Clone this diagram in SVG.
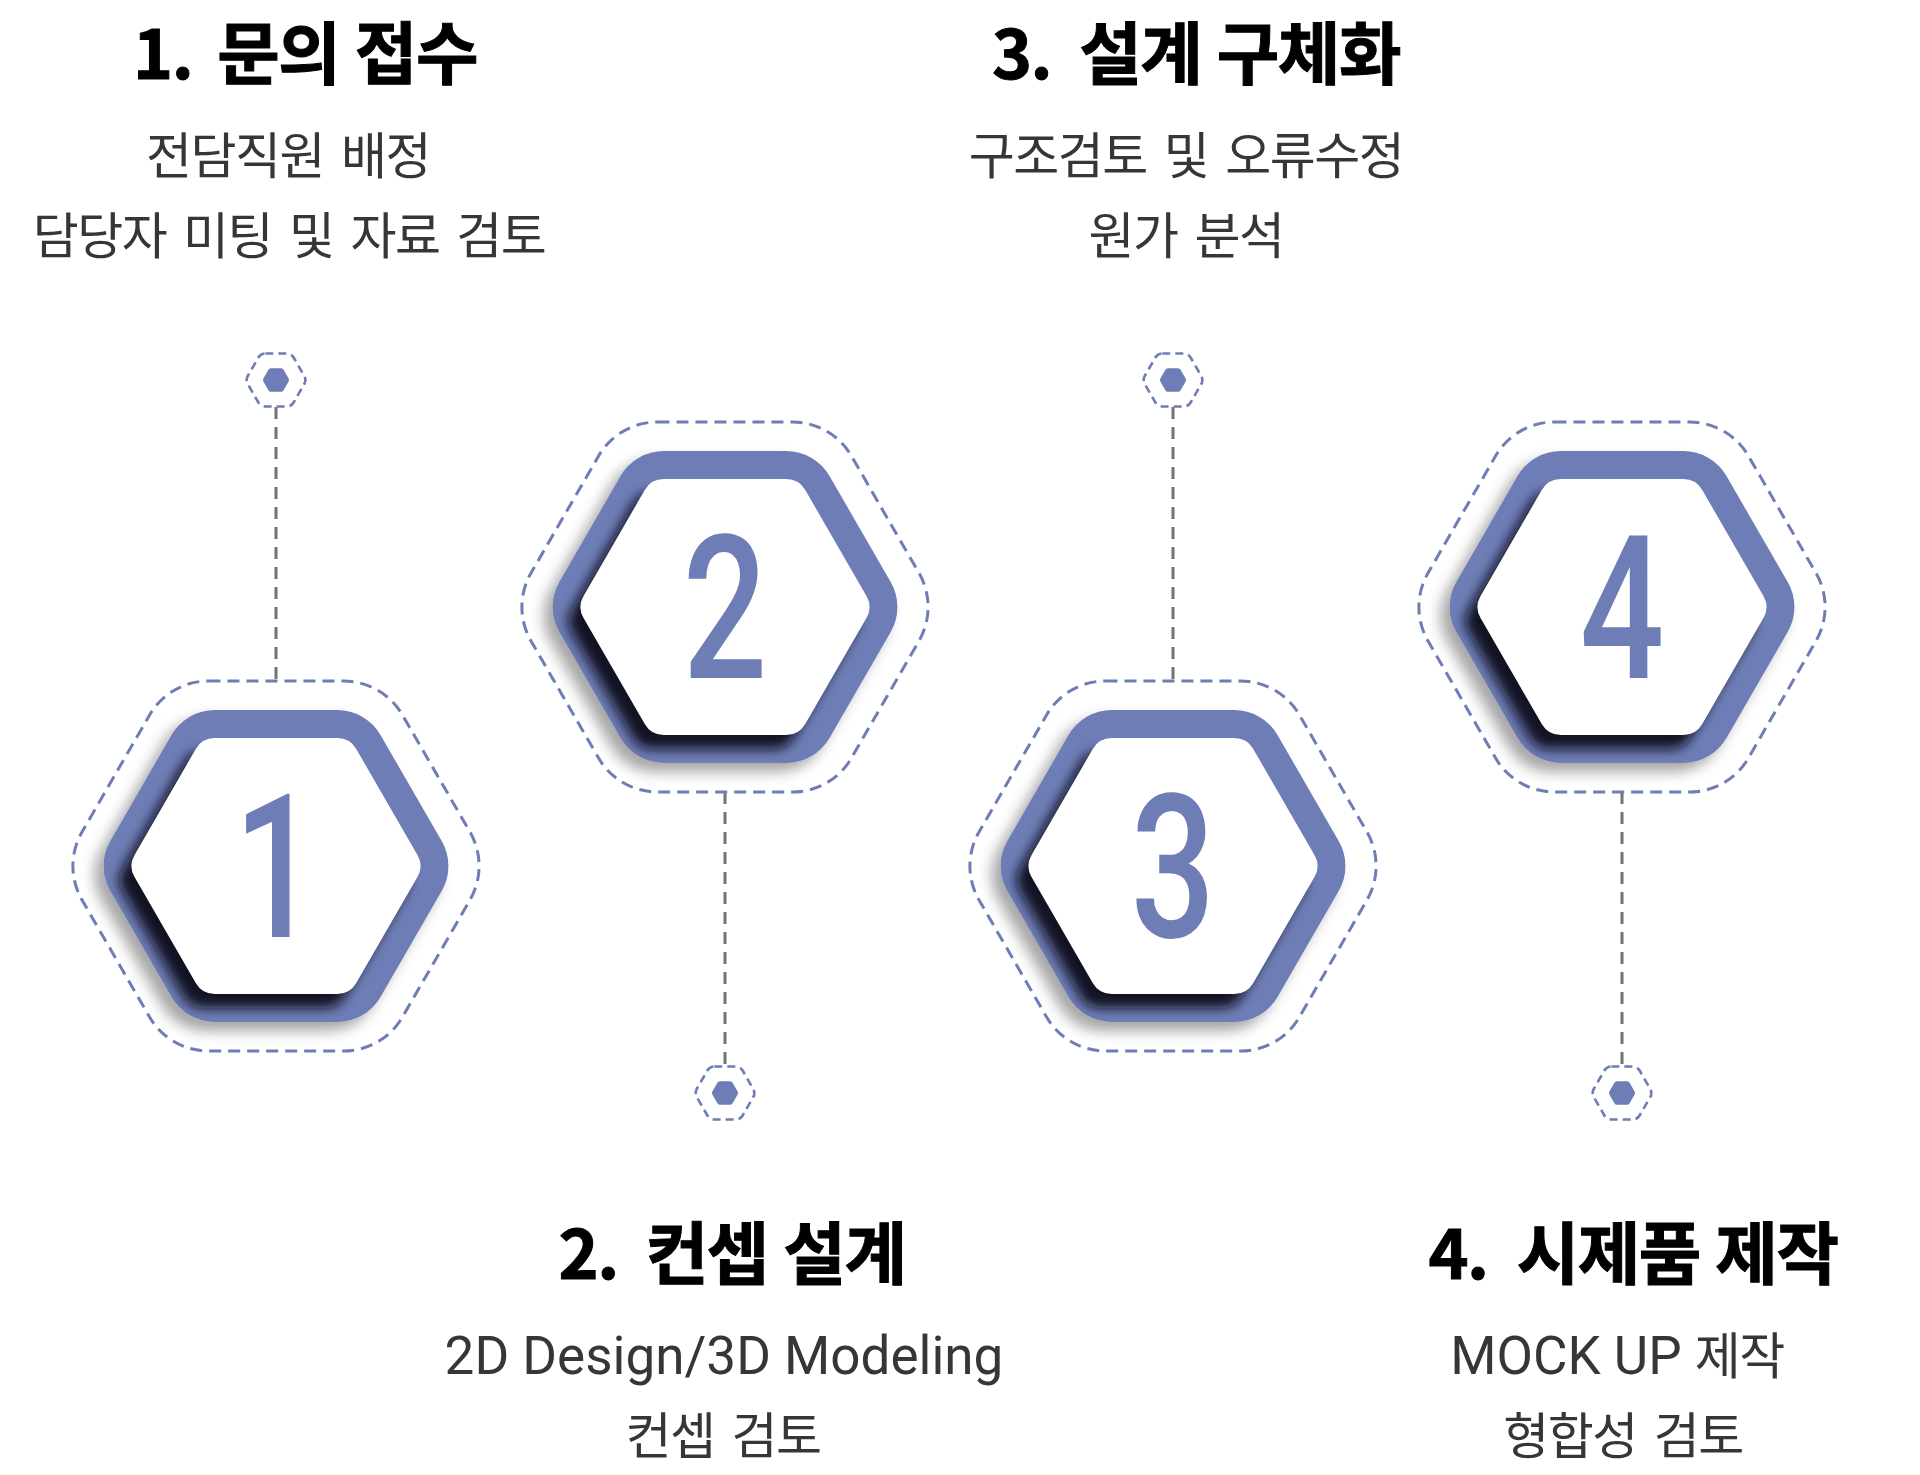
<svg xmlns="http://www.w3.org/2000/svg" xmlns:xlink="http://www.w3.org/1999/xlink" width="1920" height="1475" viewBox="0 0 1920 1475">
<style>
.ring{fill:none;stroke:#6e7db5;stroke-width:3;stroke-dasharray:12 7;}
.band{fill:#6e7db5;filter:url(#drop);}
.shade{fill:#0e0f1c;filter:url(#soft);opacity:0.95;}
.inner{fill:#ffffff;}
.num{font-family:Roboto,"Liberation Sans",sans-serif;font-weight:500;font-size:201px;fill:#6e7db5;text-anchor:middle;}
.title{font-family:"Noto Sans CJK KR",sans-serif;font-weight:700;font-size:68px;fill:#000;stroke:#000;stroke-width:1;text-anchor:middle;letter-spacing:-1.5px;word-spacing:1.5px;}
.sub{font-family:Roboto,"Noto Sans CJK KR",sans-serif;font-size:50px;fill:#363636;text-anchor:middle;letter-spacing:-1.5px;word-spacing:6px;}
.lat{font-size:53px;letter-spacing:0px;word-spacing:0px;}
.dot{fill:#6e7db5;}
.dring{fill:none;stroke:#6e7db5;stroke-width:2.6;stroke-dasharray:8 5;}
.conn{stroke:#737373;stroke-width:3;stroke-dasharray:12 8;fill:none;}
</style>
<defs>
<filter id="drop" x="-25%" y="-25%" width="150%" height="150%"><feDropShadow dx="-9" dy="9" stdDeviation="7" flood-color="#000" flood-opacity="0.35"/></filter>
<filter id="soft" x="-25%" y="-25%" width="150%" height="150%"><feGaussianBlur stdDeviation="6"/></filter>
<path id="hexOuter" d="M-61.2,-156 L61.2,-156 A50,50 0 0 1 104.5,-131 L165.7,-25 A50,50 0 0 1 165.7,25 L104.5,131 A50,50 0 0 1 61.2,156 L-61.2,156 A50,50 0 0 1 -104.5,131 L-165.7,25 A50,50 0 0 1 -165.7,-25 L-104.5,-131 A50,50 0 0 1 -61.2,-156 Z"/>
<path id="hexInner" d="M-61.2,-128 L61.2,-128 A22,22 0 0 1 80.25,-117 L141.45,-11 A22,22 0 0 1 141.45,11 L80.25,117 A22,22 0 0 1 61.2,128 L-61.2,128 A22,22 0 0 1 -80.25,117 L-141.45,11 A22,22 0 0 1 -141.45,-11 L-80.25,-117 A22,22 0 0 1 -61.2,-128 Z"/>
<path id="hexRing" d="M-67.55,-185 L67.55,-185 A68,68 0 0 1 126.44,-151 L193.99,-34 A68,68 0 0 1 193.99,34 L126.44,151 A68,68 0 0 1 67.55,185 L-67.55,185 A68,68 0 0 1 -126.44,151 L-193.99,34 A68,68 0 0 1 -193.99,-34 L-126.44,-151 A68,68 0 0 1 -67.55,-185 Z"/>
<path id="dotHex" d="M-5.02,-11.7 L5.02,-11.7 A3,3 0 0 1 7.62,-10.2 L12.63,-1.5 A3,3 0 0 1 12.63,1.5 L7.62,10.2 A3,3 0 0 1 5.02,11.7 L-5.02,11.7 A3,3 0 0 1 -7.62,10.2 L-12.63,1.5 A3,3 0 0 1 -12.63,-1.5 L-7.62,-10.2 A3,3 0 0 1 -5.02,-11.7 Z"/>
<path id="dotRing" d="M-10.68,-26.5 L10.68,-26.5 A8,8 0 0 1 17.61,-22.5 L28.29,-4 A8,8 0 0 1 28.29,4 L17.61,22.5 A8,8 0 0 1 10.68,26.5 L-10.68,26.5 A8,8 0 0 1 -17.61,22.5 L-28.29,4 A8,8 0 0 1 -28.29,-4 L-17.61,-22.5 A8,8 0 0 1 -10.68,-26.5 Z"/>
<clipPath id="clipBand"><use href="#hexOuter"/></clipPath>
</defs>
<rect width="1920" height="1475" fill="#ffffff"/>

<g id="connectors">
<line class="conn" x1="276" y1="407" x2="276" y2="681"/>
<line class="conn" x1="725" y1="792" x2="725" y2="1066"/>
<line class="conn" x1="1173" y1="407" x2="1173" y2="681"/>
<line class="conn" x1="1622" y1="792" x2="1622" y2="1066"/>
</g>

<g id="step1">
<g transform="translate(276,866)">
<use href="#hexRing" class="ring"/>
<use href="#hexOuter" class="band"/>
<g clip-path="url(#clipBand)"><use href="#hexInner" x="-12" y="14" class="shade"/></g>
<use href="#hexInner" class="inner"/>
<text class="num" transform="translate(0,71) scale(0.74,1)">1</text>
</g>
<g transform="translate(276,380)"><use href="#dotRing" class="dring"/><use href="#dotHex" class="dot"/></g>
<text class="title" x="305" y="79">1.<tspan dx="25">문의 접수</tspan></text>
<text class="sub" x="288" y="174">전담직원 배정</text>
<text class="sub" x="289" y="254">담당자 미팅 및 자료 검토</text>
</g>

<g id="step2">
<g transform="translate(725,607)">
<use href="#hexRing" class="ring"/>
<use href="#hexOuter" class="band"/>
<g clip-path="url(#clipBand)"><use href="#hexInner" x="-12" y="14" class="shade"/></g>
<use href="#hexInner" class="inner"/>
<text class="num" transform="translate(0,71) scale(0.74,1)">2</text>
</g>
<g transform="translate(725,1093)"><use href="#dotRing" class="dring"/><use href="#dotHex" class="dot"/></g>
<text class="title" x="732" y="1279">2.<tspan dx="28">컨셉 설계</tspan></text>
<text class="sub lat" x="724" y="1374">2D Design/3D Modeling</text>
<text class="sub" x="723" y="1454">컨셉 검토</text>
</g>

<g id="step3">
<g transform="translate(1173,866)">
<use href="#hexRing" class="ring"/>
<use href="#hexOuter" class="band"/>
<g clip-path="url(#clipBand)"><use href="#hexInner" x="-12" y="14" class="shade"/></g>
<use href="#hexInner" class="inner"/>
<text class="num" transform="translate(0,71) scale(0.74,1)">3</text>
</g>
<g transform="translate(1173,380)"><use href="#dotRing" class="dring"/><use href="#dotHex" class="dot"/></g>
<text class="title" x="1196" y="79">3.<tspan dx="28">설계 구체화</tspan></text>
<text class="sub" x="1186" y="174">구조검토 및 오류수정</text>
<text class="sub" x="1186" y="254">원가 분석</text>
</g>

<g id="step4">
<g transform="translate(1622,607)">
<use href="#hexRing" class="ring"/>
<use href="#hexOuter" class="band"/>
<g clip-path="url(#clipBand)"><use href="#hexInner" x="-12" y="14" class="shade"/></g>
<use href="#hexInner" class="inner"/>
<text class="num" transform="translate(0,71) scale(0.74,1)">4</text>
</g>
<g transform="translate(1622,1093)"><use href="#dotRing" class="dring"/><use href="#dotHex" class="dot"/></g>
<text class="title" x="1633" y="1279">4.<tspan dx="29">시제품 제작</tspan></text>
<text class="sub" x="1617" y="1374"><tspan class="lat">MOCK UP </tspan>제작</text>
<text class="sub" x="1623" y="1454">형합성 검토</text>
</g>
</svg>
